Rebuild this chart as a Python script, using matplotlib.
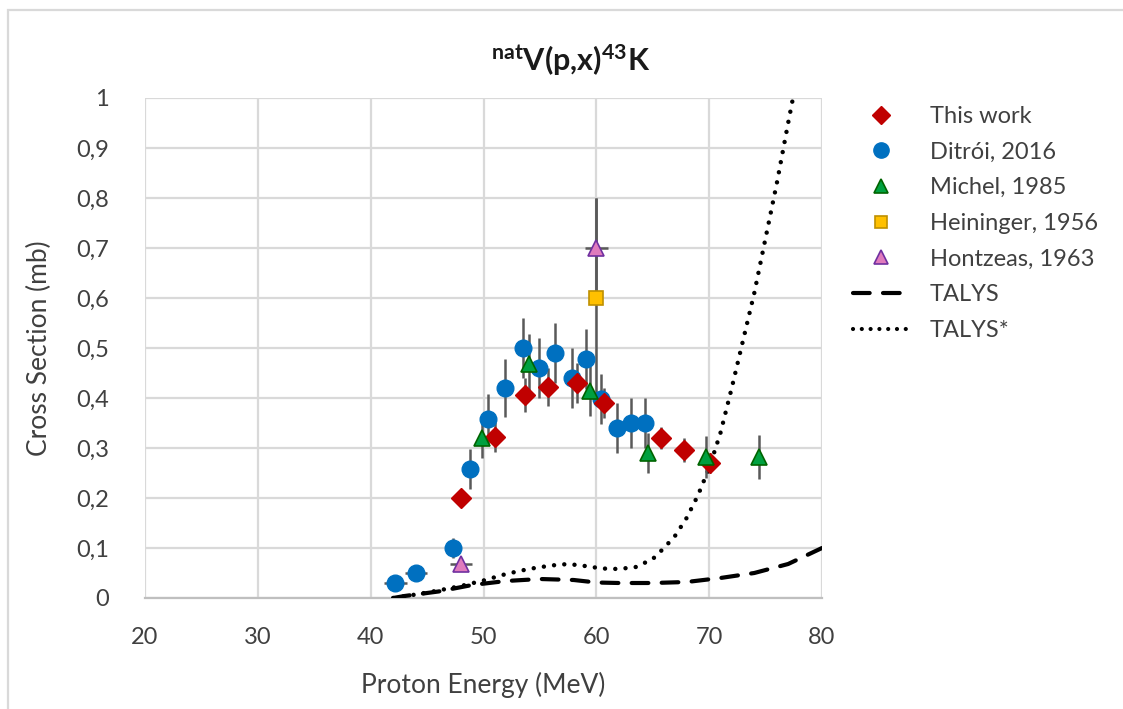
import matplotlib
matplotlib.use("Agg")
import matplotlib.pyplot as plt
from matplotlib.lines import Line2D
from matplotlib.patches import Rectangle

plt.rcParams['font.family'] = ['Lato', 'DejaVu Sans']
plt.rcParams['mathtext.fontset'] = 'custom'
plt.rcParams['mathtext.rm'] = 'Lato'
plt.rcParams['mathtext.bf'] = 'Lato:bold'

# ---- measured cross sections ----
this_x = [48.0, 51.0, 53.7, 55.7, 58.3, 60.7, 65.7, 67.8, 70.1]
this_y = [0.200, 0.322, 0.407, 0.423, 0.430, 0.390, 0.320, 0.297, 0.270]
this_yerr = [0.010, 0.030, 0.034, 0.038, 0.040, 0.030, 0.022, 0.024, 0.020]

ditroi_x = [42.2, 44.0, 47.3, 48.8, 50.4, 51.9, 53.5, 54.9, 56.3, 57.8, 59.1, 60.4, 61.8, 63.1, 64.3]
ditroi_y = [0.030, 0.050, 0.100, 0.258, 0.358, 0.420, 0.500, 0.460, 0.490, 0.440, 0.478, 0.398, 0.340, 0.350, 0.350]
ditroi_yerr = [0.005, 0.005, 0.020, 0.040, 0.050, 0.058, 0.060, 0.060, 0.060, 0.060, 0.060, 0.050, 0.050, 0.050, 0.050]
ditroi_xerr = [1.0, 1.0, 0.7, 0.4, 0.4, 0.4, 0.4, 0.4, 0.4, 0.4, 0.4, 0.4, 0.4, 0.4, 0.4]

michel_x = [49.9, 54.0, 59.4, 64.6, 69.7, 74.4]
michel_y = [0.320, 0.468, 0.414, 0.290, 0.282, 0.282]
michel_yerr = [0.040, 0.060, 0.050, 0.040, 0.042, 0.044]

heininger_x = [60.0]
heininger_y = [0.600]
heininger_yerr = [0.200]

hontzeas_x = [48.0, 60.0]
hontzeas_y = [0.068, 0.700]
hontzeas_yerr = [0.007, 0.100]
hontzeas_xerr = [1.0, 1.0]

# ---- model calculations ----
talys_x = [42, 43, 46, 49, 52, 55, 58, 60, 62, 65, 68, 71, 74, 77, 80]
talys_y = [0.0, 0.004, 0.013, 0.026, 0.034, 0.038, 0.036, 0.031, 0.030, 0.030, 0.032, 0.040, 0.050, 0.068, 0.100]

talys2_x = [42, 44, 46, 48, 50, 52, 54, 56, 57.5, 59, 60.5, 62, 63.5, 65, 66, 67, 68, 69, 70,
            71, 72, 73, 74, 75, 76, 77, 77.6]
talys2_y = [0.0, 0.007, 0.015, 0.024, 0.035, 0.048, 0.058, 0.065, 0.068, 0.064, 0.059, 0.058, 0.062,
            0.078, 0.100, 0.125, 0.160, 0.205, 0.260, 0.330, 0.420, 0.515, 0.610, 0.720, 0.830, 0.950, 1.02]

x_ticks = [20, 30, 40, 50, 60, 70, 80]
y_ticks = [0, 0.1, 0.2, 0.3, 0.4, 0.5, 0.6, 0.7, 0.8, 0.9, 1.0]
y_ticklabels = ['0', '0,1', '0,2', '0,3', '0,4', '0,5', '0,6', '0,7', '0,8', '0,9', '1']

W, H = 1123, 709
fig = plt.figure(figsize=(W / 100, H / 100), dpi=100)
ax = fig.add_axes([145 / W, 1 - 598 / H, (822 - 145) / W, (598 - 98) / H])

grid_c = '#d9d9d9'
text_c = '#404040'
err_c = '#595959'

ax.set_xlim(20, 80)
ax.set_ylim(0, 1)
ax.set_xticks(x_ticks)
ax.set_yticks(y_ticks)
ax.set_yticklabels(y_ticklabels)
ax.tick_params(length=0, labelsize=17, labelcolor=text_c)
ax.tick_params(axis='x', pad=21)
ax.tick_params(axis='y', pad=26)
ax.grid(True, color=grid_c, lw=1.6)
ax.set_axisbelow(True)
for s in ['top', 'right', 'left']:
    ax.spines[s].set_visible(False)
ax.spines['bottom'].set_color('#bfbfbf')
ax.spines['bottom'].set_linewidth(1.6)

# model curves
talys_style = dict(color='black', lw=3.0, dashes=(4.0, 3.2), dash_capstyle='round')
talys2_style = dict(color='black', lw=3.2, dashes=(0.01, 2.3), dash_capstyle='round')
ax.plot(talys_x, talys_y, zorder=3, **talys_style)
ax.plot(talys2_x, talys2_y, zorder=3, **talys2_style)

ekw = dict(ecolor=err_c, elinewidth=1.8, capsize=0, linestyle='none', zorder=4)

ax.errorbar(heininger_x, heininger_y, yerr=heininger_yerr, marker='s', ms=10,
            mfc='#ffc000', mec='#bf9000', mew=1.2, **ekw)
ax.errorbar(hontzeas_x, hontzeas_y, yerr=hontzeas_yerr, xerr=hontzeas_xerr, marker='^', ms=11,
            mfc='#e07bbd', mec='#7030a0', mew=1.2, **ekw)
ax.errorbar(ditroi_x, ditroi_y, yerr=ditroi_yerr, xerr=ditroi_xerr, marker='o', ms=12,
            mfc='#0070c0', mec='#0070c0', mew=1, **ekw)
ax.errorbar(this_x, this_y, yerr=this_yerr, marker='D', ms=10,
            mfc='#c00000', mec='#c00000', mew=1, **ekw)
ax.errorbar(michel_x, michel_y, yerr=michel_yerr, marker='^', ms=11,
            mfc='#00a040', mec='#006400', mew=1.2, **ekw)

ax.set_xlabel('Proton Energy (MeV)', fontsize=19, color=text_c, labelpad=17)
ax.set_ylabel('Cross Section (mb)', fontsize=19, color=text_c, labelpad=17)

fig.text(571 / W, 1 - 60 / H, r'$\mathbf{{}^{nat}V(p{,}x)^{43}K}$', fontsize=22,
         ha='center', va='center', color='#1a1a1a')

handles = [
    Line2D([], [], ls='none', marker='D', ms=9, mfc='#c00000', mec='#c00000'),
    Line2D([], [], ls='none', marker='o', ms=11, mfc='#0070c0', mec='#0070c0'),
    Line2D([], [], ls='none', marker='^', ms=10, mfc='#00a040', mec='#006400', mew=1.2),
    Line2D([], [], ls='none', marker='s', ms=9, mfc='#ffc000', mec='#bf9000', mew=1.2),
    Line2D([], [], ls='none', marker='^', ms=10, mfc='#e07bbd', mec='#7030a0', mew=1.2),
    Line2D([], [], **talys_style),
    Line2D([], [], color='black', lw=3.0, dashes=(0.01, 2.1), dash_capstyle='round'),
]
labels = ['This work', 'Ditrói, 2016', 'Michel, 1985', 'Heininger, 1956',
          'Hontzeas, 1963', 'TALYS', 'TALYS*']
fig.legend(handles, labels, loc='upper left', bbox_to_anchor=(853 / W, 1 - 106 / H),
           frameon=False, fontsize=17, labelcolor=text_c, borderpad=0, borderaxespad=0,
           handlelength=2.35, handletextpad=0.9, labelspacing=0.62)

fig.patches.append(Rectangle((8 / W, -0.2), 1.5, 1.2 - 10 / H, transform=fig.transFigure,
                             fill=False, edgecolor=grid_c, lw=1.6))

fig.savefig('out.png', dpi=100)
